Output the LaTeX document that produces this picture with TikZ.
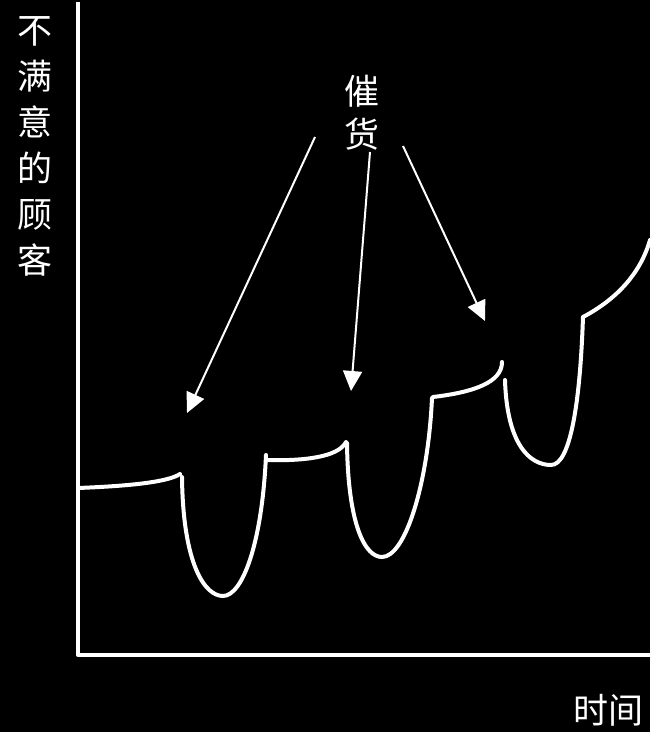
\documentclass[tikz,border=0pt]{standalone}
\usepackage{fontspec}
\newfontfamily\cjk{Noto Sans CJK SC}
\usepackage{tikz}
\usetikzlibrary{arrows.meta,positioning}

\begin{document}
\begin{tikzpicture}[x=1pt, y=-1pt,
    axis/.style={white, line width=4pt, line join=round},
    curve/.style={white, line width=4pt, line cap=round},
    pointer/.style={white, line width=2pt, -{Triangle[length=20pt, width=19pt]}},
    lbl/.style={white, font=\cjk\fontsize{35}{46}\selectfont, align=center, inner sep=0pt}]
    \fill[black] (0,0) rectangle (650,732);
    \useasboundingbox (0,0) rectangle (650,732);

    % axes
    \coordinate (top) at (78,2);
    \coordinate (origin) at (78,655);
    \coordinate (right) at (650,655);
    \draw[axis] (top) -- (origin) -- (right);

    % labels
    \node[lbl] (ylabel) at (35,146) {不\\满\\意\\的\\顾\\客};
    \node[lbl] (xlabel) at (608,710) {时间};
    \node[lbl, font=\cjk\fontsize{35}{43}\selectfont] (cuihuo) at (362,113) {催\\货};

    % the curve
    \draw[curve] (78,488) .. controls (130,486) and (168,482) .. (180,474);
    \draw[curve] (182,477) .. controls (183,565) and (205,596) .. (223,596)
        .. controls (242,596) and (262,545) .. (266,455);
    \draw[curve] (267,460) .. controls (300,461) and (338,458) .. (346,442);
    \draw[curve] (347,443) .. controls (348,525) and (365,557) .. (382,557)
        .. controls (405,557) and (428,485) .. (432,398);
    \draw[curve] (433,397) .. controls (475,392) and (502,382) .. (502,362);
    \draw[curve] (505,380) .. controls (507,445) and (530,465) .. (551,465)
        .. controls (570,465) and (580,405) .. (583,317);
    \draw[curve] (583,317) .. controls (615,300) and (640,275) .. (650,240);

    % pointers
    \coordinate (from1) at (315,137);
    \coordinate (from2) at (370,152);
    \coordinate (from3) at (403,146);
    \coordinate (to1) at (187,413);
    \coordinate (to2) at (351,391);
    \coordinate (to3) at (485,321);
    \draw[pointer] (from1) -- (to1);
    \draw[pointer] (from2) -- (to2);
    \draw[pointer] (from3) -- (to3);
\end{tikzpicture}
\end{document}
